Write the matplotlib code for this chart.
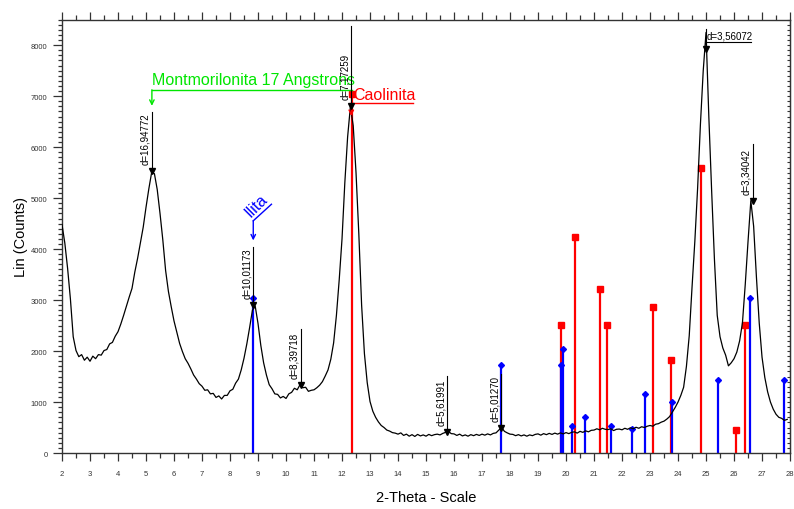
import numpy as np
import matplotlib.pyplot as plt
from matplotlib.ticker import MultipleLocator

plt.rcParams['font.family'] = ['Liberation Sans', 'DejaVu Sans']

# step scan, 2.0 .. 27.9 deg 2-theta, 0.1 deg per step
scan_start = 2.0
scan_step = 0.1
counts = [
    4480, 4120, 3620, 3020, 2280, 2010, 1890, 1930, 1820, 1880,   # 2
    1800, 1900, 1850, 1930, 1920, 2010, 2030, 2140, 2170, 2290,   # 3
    2380, 2530, 2700, 2880, 3060, 3230, 3550, 3820, 4120, 4430,   # 4
    4820, 5180, 5500, 5480, 5170, 4700, 4180, 3580, 3170, 2870,   # 5
    2590, 2370, 2150, 1990, 1850, 1760, 1650, 1530, 1450, 1360,   # 6
    1310, 1230, 1240, 1160, 1170, 1090, 1120, 1060, 1130, 1130,   # 7
    1220, 1250, 1370, 1450, 1630, 1860, 2140, 2460, 2800, 2880,   # 8
    2540, 2110, 1770, 1530, 1340, 1260, 1160, 1150, 1080, 1110,   # 9
    1070, 1160, 1190, 1270, 1240, 1340, 1280, 1290, 1210, 1230,   # 10
    1240, 1280, 1330, 1400, 1510, 1630, 1840, 2160, 2700, 3400,   # 11
    4200, 5300, 6200, 6800, 6420, 5500, 4300, 2900, 1950, 1380,   # 12
    1010, 820, 700, 610, 540, 500, 450, 430, 400, 390,            # 13
    370, 395, 345, 370, 330, 360, 325, 365, 335, 355,             # 14
    330, 365, 340, 360, 370, 355, 385, 405, 425, 380,             # 15
    375, 345, 370, 335, 355, 330, 360, 340, 365, 345,             # 16
    370, 350, 375, 355, 385, 395, 450, 500, 425, 395,             # 17
    370, 365, 340, 360, 335, 355, 330, 355, 340, 365,             # 18
    375, 350, 380, 360, 385, 365, 390, 370, 395, 375,             # 19
    400, 380, 405, 415, 390, 425, 405, 435, 415, 445,             # 20
    450, 475, 455, 485, 465, 460, 475, 440, 465, 470,             # 21
    455, 485, 465, 495, 475, 505, 485, 515, 500, 525,             # 22
    540, 525, 565, 575, 605, 625, 665, 715, 805, 895,             # 23
    1000, 1130, 1290, 1700, 2300, 3250, 4150, 5200, 6450, 7500,   # 24
    8250, 6600, 5150, 3800, 2700, 2280, 2060, 1920, 1710, 1770,   # 25
    1850, 1980, 2200, 2550, 3300, 4150, 4950, 4450, 3450, 2550,   # 26
    1880, 1480, 1200, 1000, 860, 760, 700, 680, 640, 660,         # 27
]
two_theta = scan_start + scan_step * np.arange(len(counts))

# reference pattern: kaolinite
kaol_pos = [12.35, 19.83, 20.33, 21.20, 21.47, 23.09, 23.74, 24.83, 26.06, 26.38]
kaol_int = [7050, 2520, 4230, 3215, 2520, 2860, 1825, 5600, 455, 2520]
# reference pattern: illite
ilit_pos = [8.83, 17.66, 19.81, 19.89, 20.21, 20.66, 21.61, 22.36, 22.83, 23.80,
            25.42, 26.57, 27.78]
ilit_int = [3050, 1735, 1735, 2035, 525, 700, 525, 480, 1150, 1005,
            1440, 3045, 1440]

# peak search results: position, count at marker, top of leader, label
peak_pos = [5.21, 8.83, 10.53, 12.33, 15.76, 17.68, 26.66]
peak_cnt = [5530, 2900, 1330, 6800, 420, 500, 4950]
peak_top = [6690, 4040, 2430, 8370, 1515, 1550, 6060]
peak_lbl = ["d=16,94772", "d=10,01173", "d=8,39718", "d=7,17259",
            "d=5,61991", "d=5,01270", "d=3,34042"]
top_peak = (24.99, 7920, 8310, "d=3,56072")

GREEN = "#00e600"
RED = "#ff0000"
BLUE = "#0000ff"

fig = plt.figure(figsize=(7.94, 5.10), dpi=100)
ax = fig.add_axes([0.0781, 0.1098, 0.9169, 0.8496])

# stick patterns
ax.vlines(kaol_pos, 0, kaol_int, color=RED, lw=1.6, zorder=2)
ax.plot(kaol_pos, kaol_int, "s", color=RED, ms=5, zorder=2)
ax.vlines(ilit_pos, 0, ilit_int, color=BLUE, lw=1.6, zorder=2)
ax.plot(ilit_pos, ilit_int, "D", color=BLUE, ms=3, zorder=2)

# measured scan
ax.plot(two_theta, counts, color="black", lw=0.9, zorder=3)

# d-spacing labels
for x, c, t, lbl in zip(peak_pos, peak_cnt, peak_top, peak_lbl):
    ax.plot([x, x], [c, t], color="black", lw=0.8, zorder=4)
    ax.plot(x, c, "v", color="black", ms=4, zorder=4)
    ax.annotate(lbl, (x, c), xytext=(-1, 5), textcoords="offset points",
                rotation=90, ha="right", va="bottom", fontsize=7, zorder=4)

x, c, t, lbl = top_peak
ax.plot([x, x], [c, t], color="black", lw=0.8, zorder=4)
ax.plot(x, c, "v", color="black", ms=4, zorder=4)
ax.plot([x, 26.62], [8065, 8065], color="black", lw=0.8)
ax.text(x + 0.04, 8090, lbl, ha="left", va="bottom", fontsize=7)

# phase labels
arrow_kw = dict(arrowstyle="->", lw=1.0, shrinkA=0, shrinkB=0, mutation_scale=8)

ax.plot([5.21, 12.35], [7125, 7125], color=GREEN, lw=1.0)
ax.annotate("", xy=(5.21, 6810), xytext=(5.21, 7125),
            arrowprops=dict(color=GREEN, **arrow_kw))
ax.text(5.21, 7235, "Montmorilonita 17 Angstrons", color=GREEN,
        fontsize=11.5, ha="left", va="baseline")

ax.plot([12.33, 14.55], [6860, 6860], color=RED, lw=1.0)
ax.annotate("", xy=(12.33, 6610), xytext=(12.33, 6860),
            arrowprops=dict(color=RED, **arrow_kw))
ax.text(12.41, 6940, "Caolinita", color=RED, fontsize=11.5,
        ha="left", va="baseline")

ax.plot([8.83, 9.48], [4555, 4880], color=BLUE, lw=1.0)
ax.annotate("", xy=(8.83, 4170), xytext=(8.83, 4555),
            arrowprops=dict(color=BLUE, **arrow_kw))
ax.text(8.92, 4863, "Ilita", color=BLUE, fontsize=11.5, rotation=45,
        rotation_mode="anchor", ha="center", va="center")

# axes
ax.set_xlim(2, 28)
ax.set_ylim(0, 8500)
ax.set_xticks(range(2, 29))
ax.xaxis.set_minor_locator(MultipleLocator(0.5))
ax.set_yticks(range(0, 8001, 1000))
ax.yaxis.set_minor_locator(MultipleLocator(100))

ax.tick_params(axis="x", which="both", direction="out", top=True,
               width=0.9, color="#333333", labelsize=5.5, pad=6,
               labelcolor="#333333")
ax.tick_params(axis="x", which="major", length=6)
ax.tick_params(axis="x", which="minor", length=3.5)
ax.tick_params(axis="y", which="both", direction="out", left=True, right=False,
               width=0.9, color="#333333", labelsize=5.5, pad=4,
               labelcolor="#333333")
ax.tick_params(axis="y", which="major", length=6.5)
ax.tick_params(axis="y", which="minor", length=3)

right = ax.secondary_yaxis("right")
right.set_yticks(range(0, 8001, 1000))
right.yaxis.set_minor_locator(MultipleLocator(100))
right.tick_params(which="both", direction="in", length=2, width=0.8,
                  labelright=False, color="#333333")

for s in ax.spines.values():
    s.set_color("#333333")
    s.set_linewidth(1.0)
right.spines["right"].set_color("#333333")

ax.set_xlabel("2-Theta - Scale", fontsize=10.5)
ax.xaxis.set_label_coords(0.5, -0.085)
ax.set_ylabel("Lin (Counts)", fontsize=10.5)
ax.yaxis.set_label_coords(-0.047, 0.5)

fig.savefig("out.png", dpi=100)
